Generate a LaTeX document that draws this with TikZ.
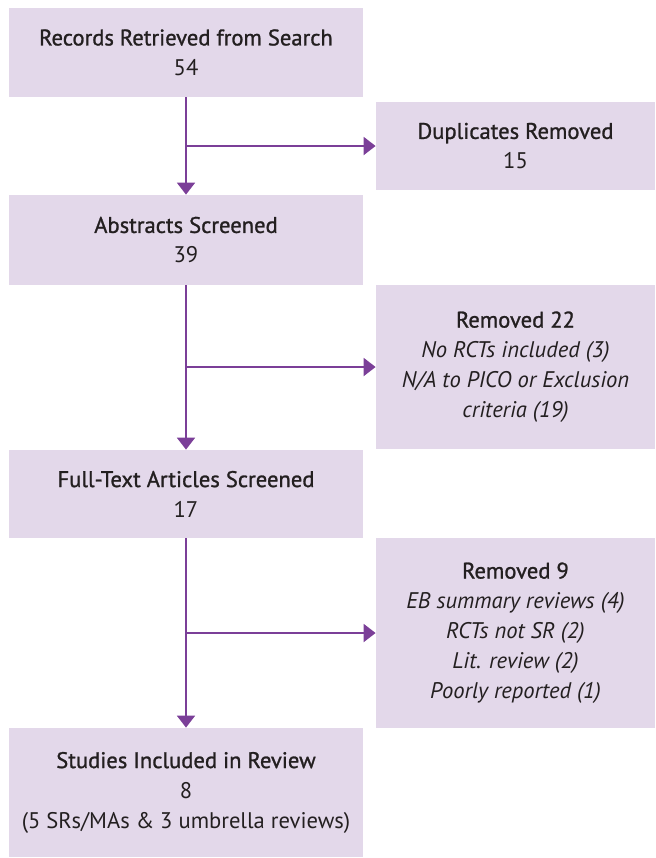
\documentclass[tikz,border=0pt]{standalone}
\usepackage{fontspec}
\setmainfont{PT Sans}
\newfontfamily\headfont{PT Sans}[FakeBold=1.1]
\usetikzlibrary{arrows.meta}
\definecolor{boxfill}{HTML}{E3D8EA}
\definecolor{flowline}{HTML}{7B3F98}
\definecolor{boxtext}{HTML}{231F20}
\begin{document}
\begin{tikzpicture}[
     x=0.5pt, y=-0.5pt,
     stage/.style={rectangle,fill=boxfill,text=boxtext,align=center,
       inner sep=0pt,font=\fontsize{11.3}{15}\selectfont},
     leftbox/.style={stage,minimum width=177pt},
     rightbox/.style={stage,minimum width=139.5pt},
     flow/.style={draw=flowline,line width=1pt,
       -{Triangle[width=9pt,length=6pt]}}
   ]
   \useasboundingbox (0,0) rectangle (655,858);
   % Main stages.
   \node[leftbox,minimum height=44.5pt] (rec) at (186,52.5)
     {{\headfont Records Retrieved from Search}\\54};
   \node[leftbox,minimum height=45pt] (abs) at (186,240)
     {{\headfont Abstracts Screened}\\39};
   \node[leftbox,minimum height=44pt] (full) at (186,494)
     {{\headfont Full-Text Articles Screened}\\17};
   \node[leftbox,minimum height=64.5pt] (inc) at (186,792.5)
     {{\headfont Studies Included in Review}\\8\\(5 SRs/MAs \& 3 umbrella reviews)};
   % Exclusions.
   \node[rightbox,minimum height=44pt] (dup) at (515.5,146)
     {{\headfont Duplicates Removed}\\15};
   \node[rightbox,minimum height=82pt] (rmA) at (515.5,367)
     {{\headfont Removed 22}\\\itshape No RCTs included (3)\\
      \itshape N/A to PICO or Exclusion\\\itshape criteria (19)};
   \node[rightbox,minimum height=95pt] (rmB) at (515.5,633)
     {{\headfont Removed 9}\\\itshape EB summary reviews (4)\\
      \itshape RCTs not SR (2)\\\itshape Lit. review (2)\\
      \itshape Poorly reported (1)};
   % Arrows.
   \draw[flow] (rec.south) -- (abs.north);
   \draw[flow] (abs.south) -- (full.north);
   \draw[flow] (full.south) -- (inc.north);
   \draw[flow] (rec.south |- dup.west) -- (dup.west);
   \draw[flow] (abs.south |- rmA.west) -- (rmA.west);
   \draw[flow] (full.south |- rmB.west) -- (rmB.west);
 \end{tikzpicture}
\end{document}
